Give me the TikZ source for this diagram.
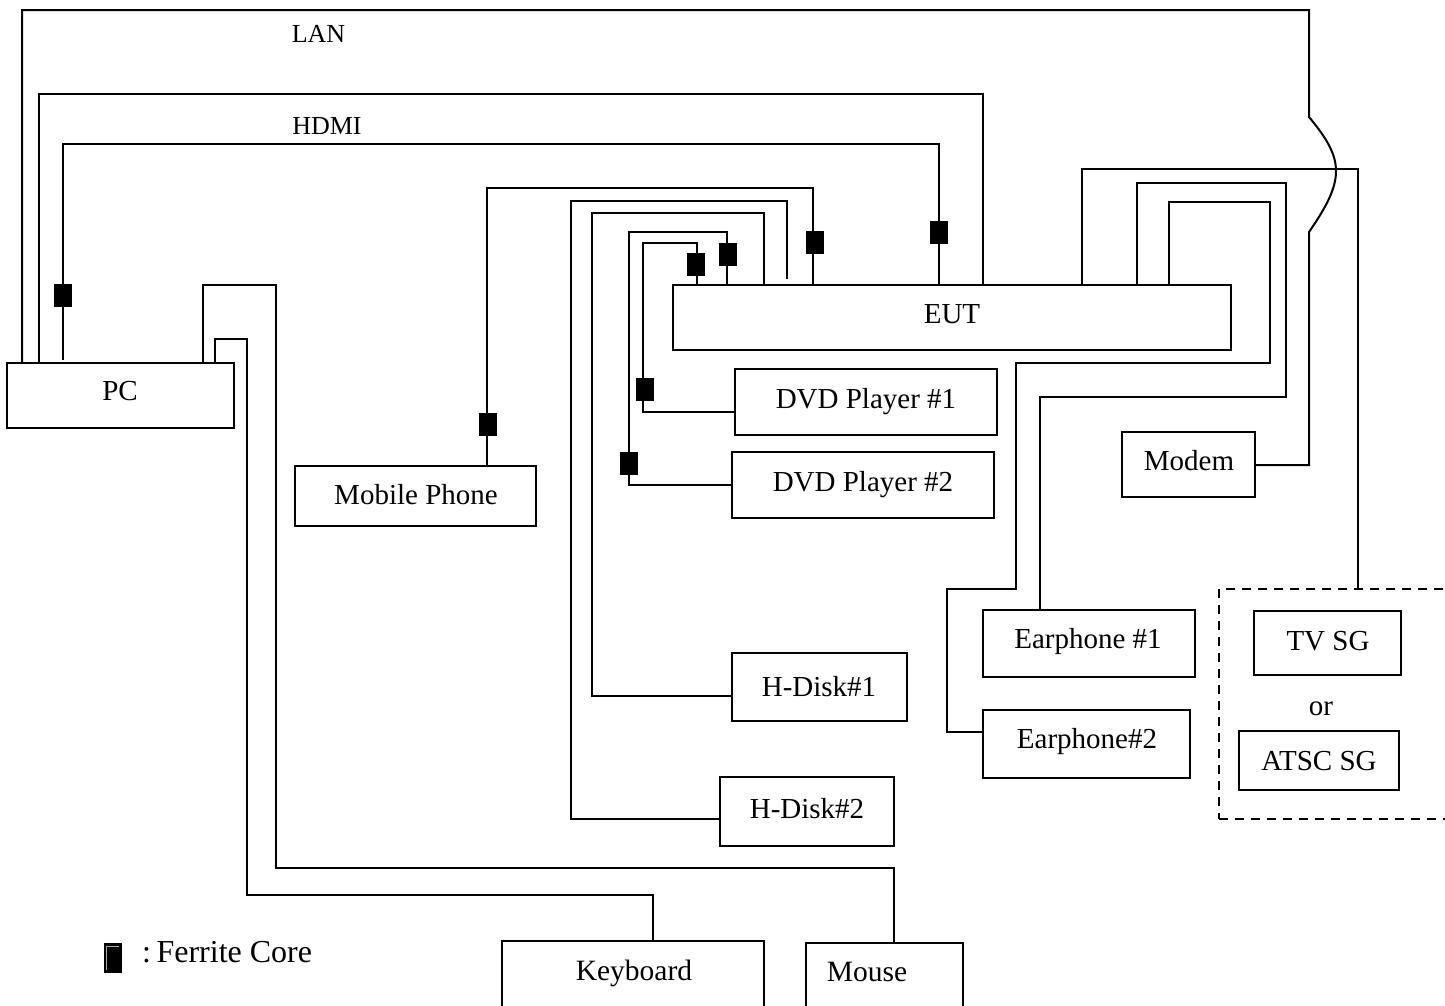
\documentclass[tikz,border=0pt]{standalone}
\usepackage{fontspec}
\setmainfont{Liberation Serif}
\tikzset{
  box/.style={draw=black,line width=2pt,fill=white,inner sep=0pt,outer sep=0pt,anchor=north west},
  txt/.style={inner sep=0pt,outer sep=0pt,anchor=base,font=\fontsize{29}{32}\selectfont,text=black},
  small/.style={txt,font=\fontsize{26}{30}\selectfont},
  core/.style={fill=black,draw=none,inner sep=0pt,outer sep=0pt,minimum width=18pt,minimum height=23pt},
  wire/.style={draw=black,line width=2pt,line join=miter},
  dashbox/.style={draw=black,line width=2pt,dash pattern=on 9pt off 7pt,inner sep=0pt,outer sep=0pt,anchor=north west}
}
\begin{document}
\begin{tikzpicture}[x=1pt,y=-1pt]
\clip (0,0) rectangle (1445,1005);
\fill[white] (0,0) rectangle (1445,1005);
% free ends
\coordinate (hdmiend) at (63,360);
\coordinate (hubend) at (787,279);
% boxes
\node[box,minimum width=558pt,minimum height=65pt] (eut) at (673,285) {};
\node[box,minimum width=227pt,minimum height=65pt] (pc) at (7,363) {};
\node[box,minimum width=241pt,minimum height=60pt] (mobile) at (295,466) {};
\node[box,minimum width=262pt,minimum height=66pt] (dvda) at (735,369) {};
\node[box,minimum width=262pt,minimum height=66pt] (dvdb) at (732,452) {};
\node[box,minimum width=175pt,minimum height=68pt] (diska) at (732,653) {};
\node[box,minimum width=174pt,minimum height=69pt] (diskb) at (720,777) {};
\node[box,minimum width=133pt,minimum height=65pt] (modem) at (1122,432) {};
\node[box,minimum width=212pt,minimum height=67pt] (eara) at (983,610) {};
\node[box,minimum width=207pt,minimum height=68pt] (earb) at (983,710) {};
\node[dashbox,minimum width=245pt,minimum height=230pt] (sgframe) at (1219,589) {};
\node[box,minimum width=147pt,minimum height=64pt] (tvsg) at (1254,611) {};
\node[box,minimum width=160pt,minimum height=59pt] (atsc) at (1239,731) {};
\node[box,minimum width=262pt,minimum height=80pt] (keyboard) at (502,941) {};
\node[box,minimum width=157pt,minimum height=80pt] (mouse) at (806,943) {};
% PC connectors
\draw[wire] (pc.north -| 22,0) -- (22,10) -- (1309,10) -- (1309,117)
  .. controls (1345,160) and (1345,180) .. (1309,232) -- (1309,465) -- (modem.east |- 0,465);
\draw[wire] (pc.north -| 39,0) -- (39,94) -- (983,94) -- (eut.north -| 983,0);
\draw[wire] (hdmiend) -- (63,144) -- (939,144) -- (eut.north -| 939,0);
\draw[wire] (pc.north -| 203,0) -- (203,285) -- (275.5,285) -- (275.5,868) -- (894,868) -- (mouse.north -| 894,0);
\draw[wire] (pc.north -| 215,0) -- (215,339) -- (247,339) -- (247,895) -- (653,895) -- (keyboard.north -| 653,0);
% EUT connectors, left
\draw[wire] (eut.north -| 697,0) -- (697,243) -- (643,243) -- (643,412) -- (dvda.west |- 0,412);
\draw[wire] (eut.north -| 727,0) -- (727,232) -- (629,232) -- (629,485) -- (dvdb.west |- 0,485);
\draw[wire] (eut.north -| 764,0) -- (764,213) -- (592,213) -- (592,696) -- (diska.west |- 0,696);
\draw[wire] (hubend) -- (787,201) -- (571,201) -- (571,819) -- (diskb.west |- 0,819);
\draw[wire] (eut.north -| 813,0) -- (813,188) -- (487,188) -- (mobile.north -| 487,0);
% EUT connectors, right
\draw[wire] (eut.north -| 1082,0) -- (1082,169) -- (1358,169) -- (sgframe.north -| 1358,0);
\draw[wire] (eut.north -| 1137,0) -- (1137,183) -- (1286,183) -- (1286,397) -- (1040,397) -- (eara.north -| 1040,0);
\draw[wire] (eut.north -| 1169,0) -- (1169,202) -- (1270,202) -- (1270,363) -- (1016,363) -- (1016,589) -- (947,589) -- (947,732) -- (earb.west |- 0,732);
% ferrite cores
\node[core] (c1) at (63,295.5) {};
\node[core] (c2) at (939,232.5) {};
\node[core] (c3) at (814.5,242.5) {};
\node[core] (c4) at (728,254.5) {};
\node[core] (c5) at (695.5,264.5) {};
\node[core] (c6) at (645,389.5) {};
\node[core] (c7) at (629,463.5) {};
\node[core] (c8) at (488,424.5) {};
% labels
\node[small] (lan) at (318.5,42) {LAN};
\node[small] (hdmi) at (327,134) {HDMI};
\node[txt] (pct) at (120,400.5) {PC};
\node[txt] (eutt) at (952,323.5) {EUT};
\node[txt] (mobilet) at (416,504.5) {Mobile Phone};
\node[txt] (dvdat) at (866,408.5) {DVD Player \#1};
\node[txt] (dvdbt) at (863,491.5) {DVD Player \#2};
\node[txt] (diskat) at (819,696.5) {H-Disk\#1};
\node[txt] (diskbt) at (807,818.5) {H-Disk\#2};
\node[txt] (modemt) at (1189,470.5) {Modem};
\node[txt] (earat) at (1088,648.5) {Earphone \#1};
\node[txt] (earbt) at (1087,748.5) {Earphone\#2};
\node[txt] (tvt) at (1328,650.5) {TV SG};
\node[txt] (ort) at (1321,715.5) {or};
\node[txt] (atsct) at (1319,770.5) {ATSC SG};
\node[txt,font=\fontsize{29.5}{32}\selectfont] (keyt) at (634,980.5) {Keyboard};
\node[txt,font=\fontsize{29.5}{32}\selectfont] (mouset) at (867,981.5) {Mouse};
% legend
\node[core,minimum height=30pt] (lgd) at (113,958) {};
\draw[gray!70,line width=0.6pt] (lgd.south west) ++(2,-3) -- ++(0,-24) -- ++(13,0);
\node[txt,anchor=base west,font=\fontsize{32}{36}\selectfont] (lgdt) at (142,962) {:\hspace{-5pt} Ferrite Core};
\end{tikzpicture}
\end{document}
